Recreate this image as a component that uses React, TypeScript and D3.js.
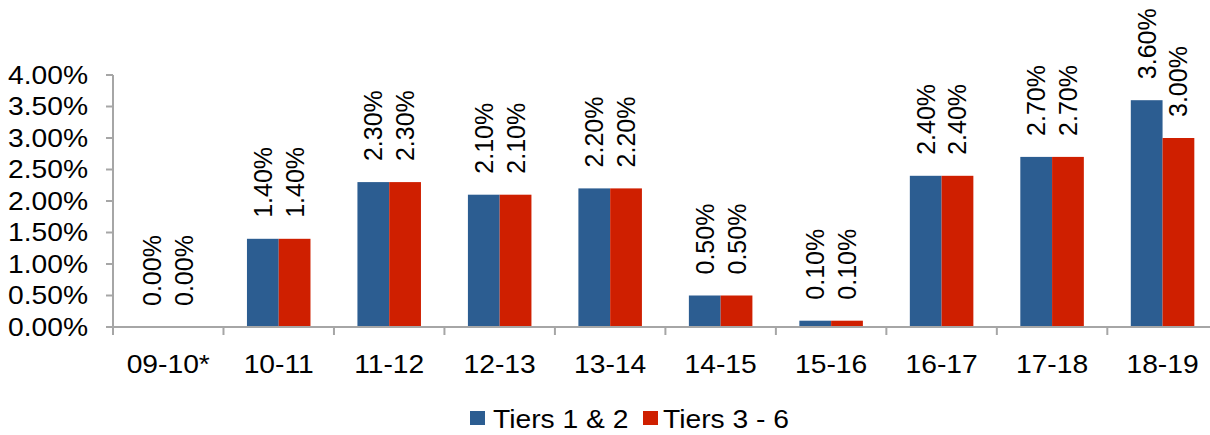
import React from "react";
import * as d3 from "d3";

const categories = ["09-10*", "10-11", "11-12", "12-13", "13-14", "14-15", "15-16", "16-17", "17-18", "18-19"];
const tiers12 = [0.0, 1.4, 2.3, 2.1, 2.2, 0.5, 0.1, 2.4, 2.7, 3.6];
const tiers36 = [0.0, 1.4, 2.3, 2.1, 2.2, 0.5, 0.1, 2.4, 2.7, 3.0];
const seriesNames = ["Tiers 1 & 2", "Tiers 3 - 6"];
const yTicks = [0, 0.5, 1, 1.5, 2, 2.5, 3, 3.5, 4];

const W = 1210;
const H = 435;
const left = 113;
const right = 1217.8;
const top = 75;
const bottom = 327;
const colors = ["#2C5D91", "#CF1F00"];
const axisColor = "#A6A6A6";
const font = "'Liberation Sans', Arial, sans-serif";
const FS = 25;
const SX = 1.13;

export default function App() {
  const x = d3.scaleBand<string>().domain(categories).range([left, right]).paddingInner(0).paddingOuter(0);
  const y = d3.scaleLinear().domain([0, 4]).range([bottom, top]);
  const bw = x.bandwidth();
  const barW = bw * 0.2875;
  const series = [tiers12, tiers36];

  const hText = (tx: number, ty: number, txt: string, anchor: string, key?: string) => (
    <text
      key={key}
      transform={`translate(${tx},${ty}) scale(${SX},1)`}
      textAnchor={anchor as any}
      fontSize={FS}
      fontFamily={font}
      fill="#000"
    >
      {txt}
    </text>
  );

  return (
    <svg width={W} height={H} style={{ position: "absolute", left: 0, top: 0, background: "#fff" }}>
      {/* bars */}
      {categories.map((c, i) => {
        const cx = (x(c) as number) + bw / 2;
        return series.map((s, j) => {
          const bx = cx - barW + j * barW;
          const v = s[i];
          return (
            <rect
              key={`b${i}-${j}`}
              x={bx}
              y={y(v)}
              width={barW}
              height={bottom - y(v)}
              fill={colors[j]}
            />
          );
        });
      })}
      {/* data labels */}
      {categories.map((c, i) => {
        const cx = (x(c) as number) + bw / 2;
        return series.map((s, j) => {
          const lx = cx - barW / 2 + j * barW;
          const ly = y(s[i]) - 21;
          return (
            <text
              key={`l${i}-${j}`}
              transform={`translate(${lx},${ly}) rotate(-90)`}
              dy="0.36em"
              textAnchor="start"
              fontSize={FS}
              fontFamily={font}
              fill="#000"
            >
              {d3.format(".2f")(s[i]) + "%"}
            </text>
          );
        });
      })}
      {/* y axis */}
      <line x1={left} x2={left} y1={top} y2={bottom + 8} stroke={axisColor} strokeWidth={2} />
      {yTicks.map((t) => (
        <g key={`yt${t}`}>
          <line x1={left - 7} x2={left} y1={y(t)} y2={y(t)} stroke={axisColor} strokeWidth={2} />
          {hText(88, y(t) + 8.8, d3.format(".2f")(t) + "%", "end")}
        </g>
      ))}
      {/* x axis */}
      <line x1={left - 7} x2={W} y1={bottom} y2={bottom} stroke={axisColor} strokeWidth={2} />
      {categories.map((c, i) => (
        <g key={`xt${c}`}>
          {i > 0 && (
            <line x1={x(c) as number} x2={x(c) as number} y1={bottom} y2={bottom + 8} stroke={axisColor} strokeWidth={2} />
          )}
          {hText((x(c) as number) + bw / 2, 373, c, "middle")}
        </g>
      ))}
      {/* legend */}
      <rect x={470} y={411} width={15} height={14} fill={colors[0]} />
      {hText(493, 428, seriesNames[0], "start")}
      <rect x={643} y={411} width={15} height={14} fill={colors[1]} />
      {hText(663, 428, seriesNames[1], "start")}
    </svg>
  );
}
